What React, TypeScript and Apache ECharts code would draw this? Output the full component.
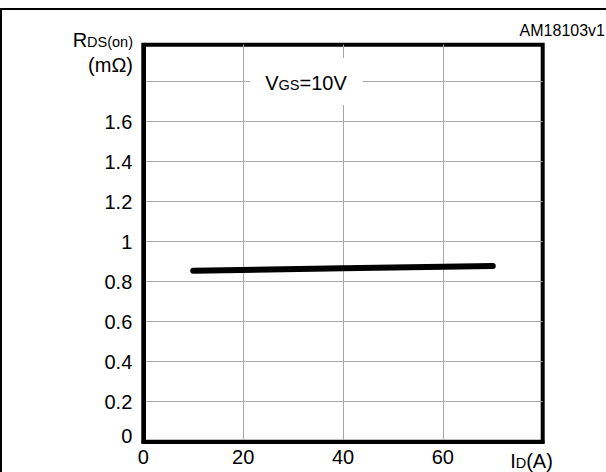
import React, { useEffect, useRef } from "react";
import * as echarts from "echarts";

const currentA = [10, 40, 70];
const rdsOn = [0.855, 0.867, 0.879];
const xTicks = { min: 0, max: 80, interval: 20 };
const yTicks = { min: 0, max: 1.985, interval: 0.2 };

const FONT = "'Liberation Sans', Arial, Helvetica, sans-serif";
const SMALL = 14.5;

export default function App() {
  const ref = useRef<HTMLDivElement>(null);

  useEffect(() => {
    if (!ref.current) return;
    const chart = echarts.init(ref.current, undefined, { renderer: "svg" });
    const data = currentA.map((x, i) => [x, rdsOn[i]]);
    const richMix = {
      b: { fontSize: 20, fontFamily: FONT },
      s: { fontSize: SMALL, fontFamily: FONT, verticalAlign: "bottom", padding: [0, 0, 1, 0] },
    };
    chart.setOption({
      animation: false,
      backgroundColor: "#fff",
      textStyle: { fontFamily: FONT },
      grid: {
        left: 143.3,
        top: 44.7,
        right: 606 - 542.7,
        bottom: 472 - 441.7,
        show: true,
        borderColor: "#000",
        borderWidth: 4,
        backgroundColor: "transparent",
      },
      xAxis: {
        type: "value",
        min: xTicks.min,
        max: xTicks.max,
        interval: xTicks.interval,
        axisLine: { show: true, lineStyle: { color: "#000", width: 4 } },
        axisTick: { show: false },
        axisLabel: {
          color: "#000",
          fontSize: 20,
          fontFamily: FONT,
          margin: 5,
          formatter: (v: number) => (v >= 79 ? "" : String(v)),
        },
        splitLine: {
          show: true,
          showMinLine: false,
          showMaxLine: false,
          lineStyle: { color: "#a6a6a6", width: 1 },
        },
      },
      yAxis: {
        type: "value",
        min: yTicks.min,
        max: yTicks.max,
        interval: yTicks.interval,
        axisLine: { show: true, lineStyle: { color: "#000", width: 4 } },
        axisTick: { show: false },
        axisLabel: {
          color: "#000",
          fontSize: 20,
          fontFamily: FONT,
          margin: 11,
          formatter: (v: number) => {
            if (v > 1.7) return "";
            if (v === 0) return "{z|0}";
            return String(Math.round(v * 10) / 10);
          },
          rich: { z: { fontSize: 20, padding: [0, 0, 12, 0] } },
        },
        splitLine: {
          show: true,
          showMinLine: false,
          showMaxLine: false,
          lineStyle: { color: "#a6a6a6", width: 1 },
        },
      },
      series: [
        {
          type: "line",
          data,
          symbol: "none",
          z: 5,
          lineStyle: { color: "#000", width: 6, cap: "round" },
        },
      ],
      graphic: [
        {
          type: "polyline",
          z: 100,
          shape: { points: [[1, 480], [1, 9], [610, 9]] },
          style: { stroke: "#000", lineWidth: 2, fill: "none" },
        },
        {
          type: "rect",
          z: 50,
          shape: { x: 250, y: 58, width: 113, height: 47 },
          style: { fill: "#fff" },
        },
        {
          type: "text",
          z: 60,
          x: 306,
          y: 83,
          style: {
            text: "{b|V}{s|GS}{b|=10V}",
            align: "center",
            verticalAlign: "middle",
            fill: "#000",
            fontFamily: FONT,
            rich: richMix,
          },
        },
        {
          type: "text",
          z: 60,
          x: 605,
          y: 30,
          style: {
            text: "AM18103v1",
            align: "right",
            verticalAlign: "middle",
            fill: "#000",
            fontSize: 16,
            fontFamily: FONT,
          },
        },
        {
          type: "text",
          z: 60,
          x: 133,
          y: 40,
          style: {
            text: "{b|R}{s|DS(on)}",
            align: "right",
            verticalAlign: "middle",
            fill: "#000",
            fontFamily: FONT,
            rich: richMix,
          },
        },
        {
          type: "text",
          z: 60,
          x: 133,
          y: 65,
          style: {
            text: "(mΩ)",
            align: "right",
            verticalAlign: "middle",
            fill: "#000",
            fontSize: 20,
            fontFamily: FONT,
          },
        },
        {
          type: "text",
          z: 60,
          x: 531.5,
          y: 461,
          style: {
            text: "{b|I}{s|D}{b|(A)}",
            align: "center",
            verticalAlign: "middle",
            fill: "#000",
            fontFamily: FONT,
            rich: richMix,
          },
        },
      ],
    });
    return () => chart.dispose();
  }, []);

  return (
    <div
      ref={ref}
      style={{
        position: "fixed",
        left: 0,
        top: 0,
        width: 606,
        height: 472,
        background: "#fff",
      }}
    />
  );
}
